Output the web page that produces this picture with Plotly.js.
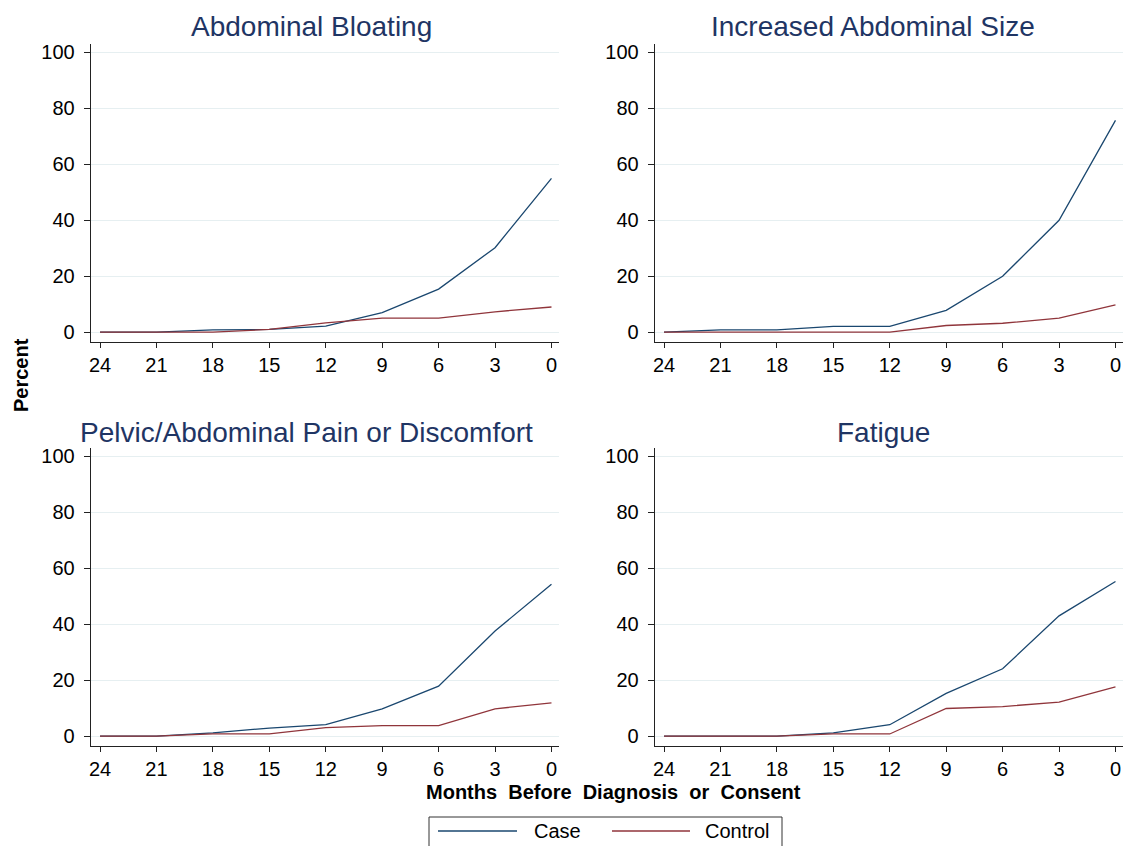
<!DOCTYPE html>
<html>
<head>
<meta charset="utf-8">
<script src="https://cdn.plot.ly/plotly-3.0.1.min.js"></script>
<style>html,body{margin:0;padding:0;background:#fff;}#chart{width:1133px;height:846px;}</style>
</head>
<body>
<div id="chart"></div>
<script>
// ---- data ----
const months = [24, 21, 18, 15, 12, 9, 6, 3, 0];
const monthTicks = [24, 21, 18, 15, 12, 9, 6, 3, 0];
const percentTicks = [0, 20, 40, 60, 80, 100];

const panelTitles = ["Abdominal Bloating", "Increased Abdominal Size",
                     "Pelvic/Abdominal Pain or Discomfort", "Fatigue"];
const seriesNames = ["Case", "Control"];

const bloatingCase    = [0, 0, 0.8, 1.0, 2.2, 7.0, 15.4, 30.2, 55.0];
const bloatingControl = [0, 0, 0, 1.0, 3.3, 5.0, 5.0, 7.3, 9.0];
const sizeCase        = [0, 0.8, 0.8, 2.1, 2.1, 7.8, 20.0, 40.0, 75.7];
const sizeControl     = [0, 0, 0, 0, 0, 2.4, 3.2, 5.0, 9.8];
const painCase        = [0, 0, 1.2, 2.9, 4.1, 9.8, 17.9, 37.6, 54.3];
const painControl     = [0, 0, 0.8, 0.8, 3.1, 3.8, 3.8, 9.8, 11.9];
const fatigueCase     = [0, 0, 0, 1.2, 4.1, 15.3, 24.1, 43.0, 55.3];
const fatigueControl  = [0, 0, 0, 0.8, 0.8, 9.9, 10.6, 12.2, 17.6];

// ---- styling ----
const caseColor = "#1a476f";
const controlColor = "#90353b";
const seriesColors = [caseColor, controlColor];
const titleColor = "#1f3564";
const FONT = "Liberation Sans, Arial, sans-serif";

const panels = [
  {title: panelTitles[0], c: bloatingCase, k: bloatingControl},
  {title: panelTitles[1], c: sizeCase, k: sizeControl},
  {title: panelTitles[2], c: painCase, k: painControl},
  {title: panelTitles[3], c: fatigueCase, k: fatigueControl}
];

const W = 1133, H = 846;
const px = v => v / W;
const py = v => (H - v) / H;

const xDomains = [[px(91), px(559)], [px(655), px(1123)]];
const yDomains = [[py(342), py(44)], [py(746), py(448)]];

const traces = [];
const layout = {
  width: W, height: H,
  margin: {l: 0, r: 0, t: 0, b: 0, autoexpand: false},
  paper_bgcolor: "#ffffff",
  plot_bgcolor: "#ffffff",
  font: {family: FONT, size: 20, color: "#000"},
  showlegend: false,
  annotations: [],
  shapes: []
};

const titlePos = [
  {x: px(311), y: py(27)},
  {x: px(873), y: py(27)},
  {x: px(306), y: py(432)},
  {x: px(884), y: py(432)}
];

panels.forEach((p, i) => {
  const n = i + 1;
  const xa = n === 1 ? "x" : "x" + n;
  const ya = n === 1 ? "y" : "y" + n;
  const col = i % 2, row = Math.floor(i / 2);
  traces.push({
    x: months, y: p.c, xaxis: xa, yaxis: ya, type: "scatter", mode: "lines",
    name: seriesNames[0], line: {color: caseColor, width: 1.3},
    hoverinfo: "skip"
  });
  traces.push({
    x: months, y: p.k, xaxis: xa, yaxis: ya, type: "scatter", mode: "lines",
    name: seriesNames[1], line: {color: controlColor, width: 1.3},
    hoverinfo: "skip"
  });
  const xkey = n === 1 ? "xaxis" : "xaxis" + n;
  const ykey = n === 1 ? "yaxis" : "yaxis" + n;
  layout[xkey] = {
    domain: xDomains[col], anchor: ya,
    range: [24.48, -0.4], tickmode: "array", tickvals: monthTicks,
    ticktext: monthTicks.map(String),
    showline: true, linecolor: "#222", linewidth: 1.3,
    ticks: "outside", ticklen: 5, tickcolor: "#222", tickwidth: 1,
    showgrid: false, zeroline: false,
    tickfont: {family: FONT, size: 20, color: "#000"}, fixedrange: true
  };
  layout[ykey] = {
    domain: yDomains[row], anchor: xa,
    range: [-3.5, 103], tickmode: "array", tickvals: percentTicks,
    ticktext: percentTicks.map(String),
    showline: true, linecolor: "#222", linewidth: 1.3,
    ticks: "outside", ticklen: 6, tickcolor: "#222", tickwidth: 1,
    ticklabelstandoff: 5,
    showgrid: true, gridcolor: "#e6eff1", gridwidth: 1, zeroline: false,
    tickfont: {family: FONT, size: 20, color: "#000"}, fixedrange: true
  };
  layout.annotations.push({
    text: p.title, xref: "paper", yref: "paper",
    x: titlePos[i].x, y: titlePos[i].y, xanchor: "center", yanchor: "middle",
    showarrow: false, font: {family: FONT, size: 28, color: titleColor}
  });
});

layout.annotations.push({
  text: "<b>Percent</b>", xref: "paper", yref: "paper",
  x: px(21), y: py(375), xanchor: "center", yanchor: "middle",
  textangle: -90, showarrow: false, font: {family: FONT, size: 20, color: "#000"}
});
layout.annotations.push({
  text: "<b>Months  Before  Diagnosis  or  Consent</b>", xref: "paper", yref: "paper",
  x: px(613), y: py(792), xanchor: "center", yanchor: "middle",
  showarrow: false, font: {family: FONT, size: 20, color: "#000"}
});

// ---- legend (drawn as a key box below the panels) ----
layout.shapes.push({
  type: "rect", xref: "paper", yref: "paper",
  x0: px(429), x1: px(782), y0: py(817), y1: py(870),
  line: {color: "#333", width: 1}, fillcolor: "rgba(0,0,0,0)"
});
const keyLineX = [[438, 517], [612, 690]];
const keyTextX = [532, 703];
seriesNames.forEach((name, j) => {
  layout.shapes.push({
    type: "line", xref: "paper", yref: "paper",
    x0: px(keyLineX[j][0]), x1: px(keyLineX[j][1]), y0: py(831), y1: py(831),
    line: {color: seriesColors[j], width: 1.3}
  });
  layout.annotations.push({
    text: name, xref: "paper", yref: "paper",
    x: px(keyTextX[j]), y: py(831), xanchor: "left", yanchor: "middle",
    showarrow: false, font: {family: FONT, size: 20, color: "#000"}
  });
});

Plotly.newPlot("chart", traces, layout, {displayModeBar: false, staticPlot: true});
</script>
</body>
</html>
